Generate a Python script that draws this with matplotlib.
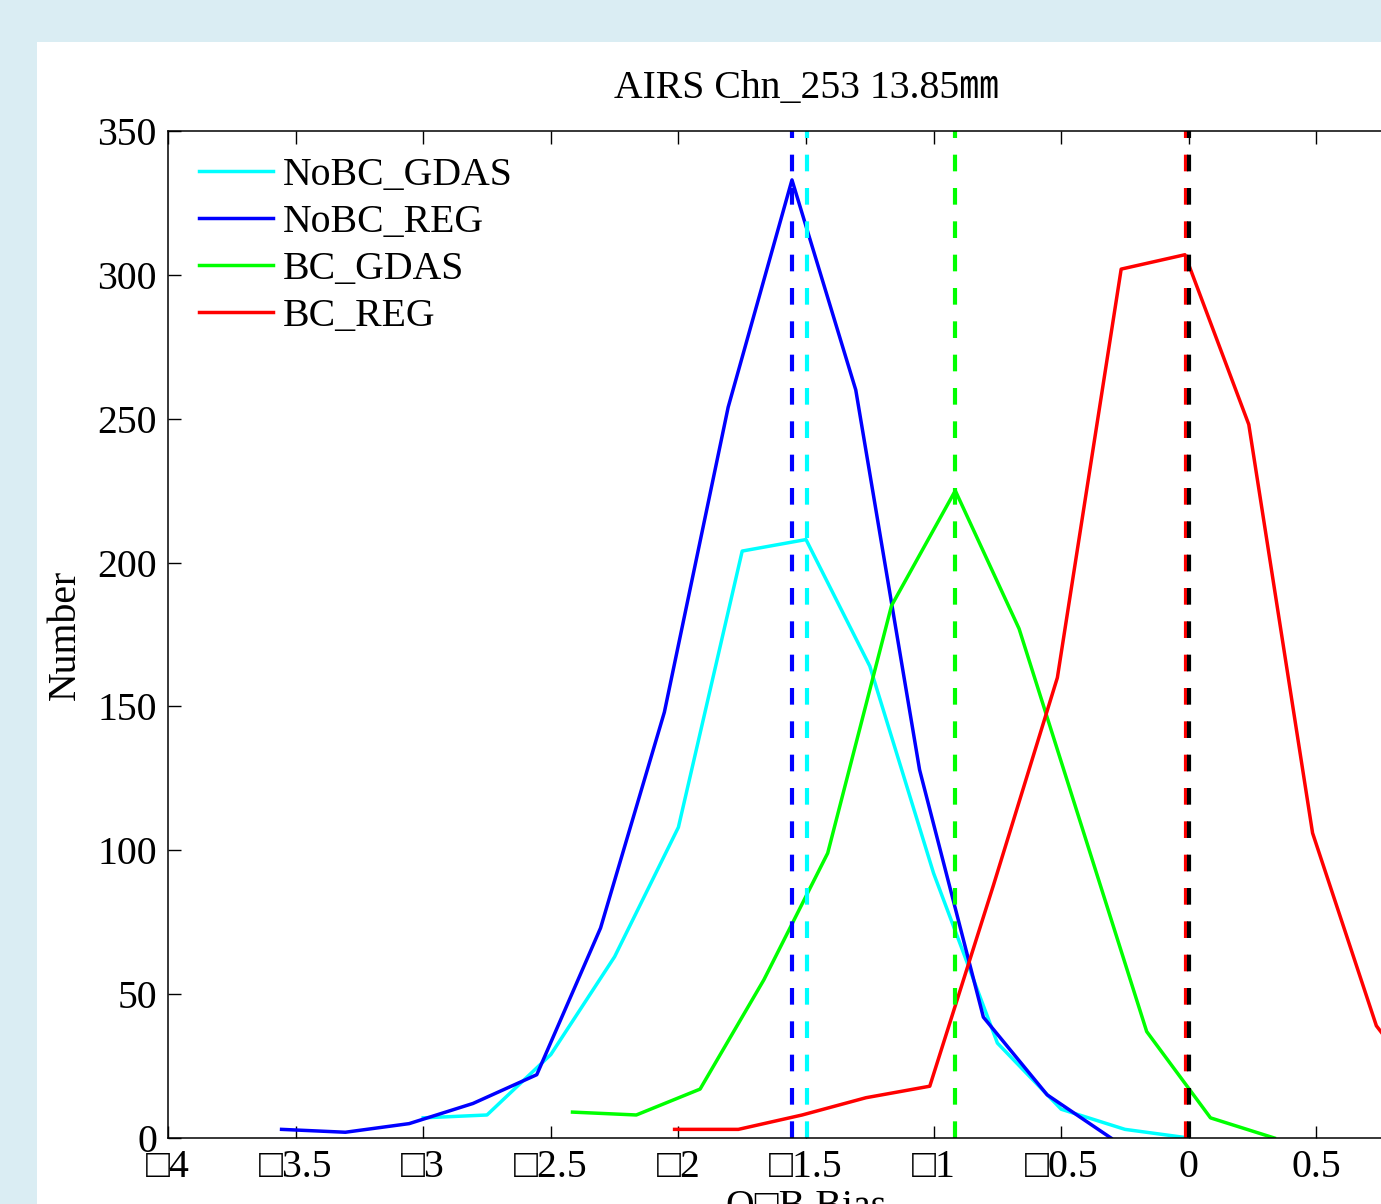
import numpy as np
import matplotlib
matplotlib.use("Agg")
import matplotlib.pyplot as plt
from matplotlib.patches import Rectangle
import matplotlib.ticker as mticker

# ── Data ─────────────────────────────────────────────────────────────────────
nobc_gdas_x = [-3.0, -2.75, -2.5, -2.25, -2.0, -1.75, -1.5, -1.25, -1.0, -0.75, -0.5, -0.25, 0.0]
nobc_gdas_y = [7, 8, 29, 63, 108, 204, 208, 164, 92, 33, 10, 3, 0]

nobc_reg_x = [-3.555, -3.305, -3.055, -2.805, -2.555, -2.305, -2.055, -1.805,
              -1.555, -1.305, -1.055, -0.805, -0.555, -0.305]
nobc_reg_y = [3, 2, 5, 12, 22, 73, 148, 254, 333, 260, 128, 42, 15, 0]

bc_gdas_x = [-2.415, -2.165, -1.915, -1.665, -1.415, -1.165, -0.915, -0.665,
             -0.415, -0.165, 0.085, 0.335]
bc_gdas_y = [9, 8, 17, 55, 99, 185, 225, 177, 107, 37, 7, 0]

bc_reg_x = [-2.015, -1.765, -1.515, -1.265, -1.015, -0.765, -0.515, -0.265,
            -0.015, 0.235, 0.485, 0.735, 0.985]
bc_reg_y = [3, 3, 8, 14, 18, 88, 160, 302, 307, 248, 106, 39, 10]

# mean bias of each series (dashed lines) and the zero line
mean_nobc_gdas = -1.497
mean_nobc_reg = -1.555
mean_bc_gdas = -0.917
mean_bc_reg = -0.012
zero_line = 0.0

xticks = [-4, -3.5, -3, -2.5, -2, -1.5, -1, -0.5, 0, 0.5, 1]
xticklabels = ["□4", "□3.5", "□3", "□2.5", "□2", "□1.5", "□1", "□0.5", "0", "0.5", "1"]
yticks = [0, 50, 100, 150, 200, 250, 300, 350]

# ── Style ────────────────────────────────────────────────────────────────────
CYAN, BLUE, GREEN, RED = "#00ffff", "#0000ff", "#00ff00", "#ff0000"
BG = "#daedf3"
FS = 28.6

plt.rcParams.update({
    "font.family": ["Liberation Serif", "DejaVu Serif"],
    "font.size": FS,
})

W, H = 1381, 1204
fig = plt.figure(figsize=(W / 100, H / 100), dpi=100)
fig.patch.set_facecolor(BG)
fig.add_artist(Rectangle((37 / W, 0), 1, 1 - 42 / H, transform=fig.transFigure,
                         facecolor="white", edgecolor="none", zorder=0))

ax = fig.add_axes([168 / W, 66 / H, 1276 / W, 1007 / H])
ax.set_facecolor("white")

lw = 2.5
ax.plot(nobc_gdas_x, nobc_gdas_y, color=CYAN, lw=lw, label="NoBC_GDAS")
ax.plot(nobc_reg_x, nobc_reg_y, color=BLUE, lw=lw, label="NoBC_REG")
ax.plot(bc_gdas_x, bc_gdas_y, color=GREEN, lw=lw, label="BC_GDAS")
ax.plot(bc_reg_x, bc_reg_y, color=RED, lw=lw, label="BC_REG")

dash = (0, (4, 4))
for xm, c in [(mean_nobc_gdas, CYAN), (mean_nobc_reg, BLUE),
              (mean_bc_gdas, GREEN), (mean_bc_reg, RED), (zero_line, "black")]:
    ax.axvline(xm, color=c, lw=3, ls=dash)

ax.set_xlim(-4, 1)
ax.set_ylim(0, 350)
ax.set_xticks(xticks)
ax.xaxis.set_major_formatter(mticker.FixedFormatter(xticklabels))
ax.set_yticks(yticks)
ax.tick_params(direction="in", length=9, width=1, top=True, right=True,
               labelsize=FS, pad=8)
for s in ax.spines.values():
    s.set_linewidth(1.1)

ax.set_title("AIRS Chn_253 13.85㎜", fontsize=FS, pad=24,
             family=["Liberation Serif", "Noto Sans CJK SC"])
ax.set_ylabel("Number", fontsize=FS)
ax.yaxis.set_label_coords(-0.066, 0.5)
ax.set_xlabel("O□B Bias", fontsize=FS)
ax.xaxis.set_label_coords(0.5, -0.051)

ax.legend(loc="upper left", bbox_to_anchor=(0.0243, 0.974), frameon=False,
          borderaxespad=0, borderpad=0, handlelength=1.87, handletextpad=0.25,
          labelspacing=0.25, fontsize=FS)

plt.savefig("out.png", dpi=100, facecolor=fig.get_facecolor())
